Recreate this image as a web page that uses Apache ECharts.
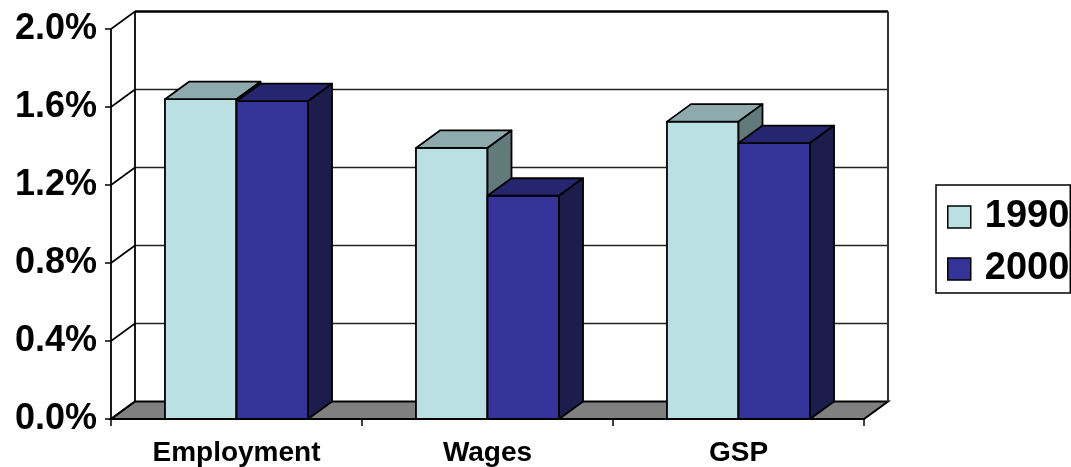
<!DOCTYPE html>
<html>
<head>
<meta charset="utf-8">
<script src="https://cdn.jsdelivr.net/npm/echarts@6/dist/echarts.min.js"></script>
<style>
  html, body { margin: 0; padding: 0; background: #ffffff; }
  #chart { width: 1071px; height: 467px; }
</style>
</head>
<body>
<div id="chart"></div>
<script>
// Growth shares by measure, 1990 vs 2000 (percent)
const categories = ['Employment', 'Wages', 'GSP'];
const seriesNames = ['1990', '2000'];
const values1990 = [1.64, 1.39, 1.525];
const values2000 = [1.63, 1.145, 1.415];
const yTicks = [0, 0.4, 0.8, 1.2, 1.6, 2.0];

const FONT = '"Liberation Sans", Arial, Helvetica, sans-serif';
// pixel offset of the back plane relative to the front plane
const DEPTH = [24, -17.5];
// share of a category band taken by a single bar
const BAR_FRACTION = 0.285;
const FACE_COLORS = [
  { front: '#BBE0E3', top: '#8FAAAC', side: '#627A7B' },
  { front: '#333399', top: '#262670', side: '#1C1C4D' }
];

// Back wall, left wall grid and floor of the 3D box
function renderFrame(params, api) {
  const band = api.size([1, 0])[0];
  const xl = api.coord([0, 0])[0] - band / 2;
  const xr = api.coord([categories.length - 1, 0])[0] + band / 2;
  const dx = DEPTH[0], dy = DEPTH[1];
  const y0 = api.coord([0, 0])[1];
  const yMax = api.coord([0, yTicks[yTicks.length - 1]])[1];
  const children = [];
  children.push({
    type: 'polygon',
    shape: { points: [[xl, y0], [xr, y0], [xr + dx, y0 + dy], [xl + dx, y0 + dy]] },
    style: { fill: '#808080', stroke: '#000', lineWidth: 2 }
  });
  yTicks.forEach(function (v) {
    const y = api.coord([0, v])[1];
    if (v > 0 && v < yTicks[yTicks.length - 1]) {
      children.push({
        type: 'line',
        shape: { x1: xl + dx, y1: y + dy, x2: xr + dx, y2: y + dy },
        style: { stroke: '#222', lineWidth: 1.6 }
      });
    }
    children.push({
      type: 'line',
      shape: { x1: xl, y1: y, x2: xl + dx, y2: y + dy },
      style: { stroke: '#000', lineWidth: 1.6 }
    });
  });
  children.push({
    type: 'line',
    shape: { x1: xl + dx, y1: yMax + dy, x2: xr + dx, y2: yMax + dy },
    style: { stroke: '#000', lineWidth: 2.5 }
  });
  children.push({
    type: 'line',
    shape: { x1: xl + dx, y1: yMax + dy, x2: xl + dx, y2: y0 + dy },
    style: { stroke: '#000', lineWidth: 1.8 }
  });
  children.push({
    type: 'line',
    shape: { x1: xr + dx, y1: yMax + dy, x2: xr + dx, y2: y0 + dy },
    style: { stroke: '#333', lineWidth: 2 }
  });
  return { type: 'group', children: children };
}

// 3D bar: front face, top face and right side face
function makeBarRenderer(j) {
  const colors = FACE_COLORS[j];
  return function (params, api) {
    const cat = api.value(0);
    const v = api.value(1);
    const band = api.size([1, 0])[0];
    const w = band * BAR_FRACTION;
    const cx = api.coord([cat, 0])[0];
    const x0 = cx - w + j * w;
    const x1 = x0 + w;
    const yb = api.coord([cat, 0])[1];
    const yt = api.coord([cat, v])[1];
    const dx = DEPTH[0], dy = DEPTH[1];
    const st = { stroke: '#000', lineWidth: 1.8, lineJoin: 'round' };
    return {
      type: 'group',
      children: [
        { type: 'polygon', shape: { points: [[x0, yb], [x1, yb], [x1, yt], [x0, yt]] },
          style: Object.assign({}, st, { fill: colors.front }) },
        { type: 'polygon', shape: { points: [[x0, yt], [x1, yt], [x1 + dx, yt + dy], [x0 + dx, yt + dy]] },
          style: Object.assign({}, st, { fill: colors.top }) },
        { type: 'polygon', shape: { points: [[x1, yb], [x1 + dx, yb + dy], [x1 + dx, yt + dy], [x1, yt]] },
          style: Object.assign({}, st, { fill: colors.side }) }
      ]
    };
  };
}

const chart = echarts.init(document.getElementById('chart'), null, { renderer: 'canvas' });

const option = {
  backgroundColor: '#ffffff',
  animation: false,
  textStyle: { fontFamily: FONT },
  grid: { left: 111, right: 207, top: 29, bottom: 48, containLabel: false },
  legend: {
    orient: 'vertical',
    left: 936,
    top: 185,
    padding: [12, 1, 4, 11],
    itemGap: 12,
    itemWidth: 23,
    itemHeight: 22,
    borderColor: '#000',
    borderWidth: 1.5,
    textStyle: { fontSize: 38, fontWeight: 'bold', color: '#000', fontFamily: FONT, lineHeight: 40, padding: [0, 0, 0, 9] },
    data: seriesNames.map(function (n, j) {
      return { name: n, icon: 'rect', itemStyle: { color: FACE_COLORS[j].front, borderColor: '#000', borderWidth: 1.5 } };
    })
  },
  xAxis: {
    type: 'category',
    data: categories,
    boundaryGap: true,
    axisLine: { show: true, lineStyle: { color: '#000', width: 2 } },
    axisTick: { show: true, alignWithLabel: false, length: 7, lineStyle: { color: '#000', width: 1.5 } },
    axisLabel: { color: '#000', fontSize: 28, fontWeight: 'bold', fontFamily: FONT, margin: 20 },
    splitLine: { show: false }
  },
  yAxis: {
    type: 'value',
    min: 0,
    max: 2,
    interval: 0.4,
    axisLine: { show: true, lineStyle: { color: '#000', width: 1.8 } },
    axisTick: { show: true, length: 6, lineStyle: { color: '#000', width: 1.5 } },
    axisLabel: {
      color: '#000', fontSize: 36, fontWeight: 'bold', fontFamily: FONT, margin: 14,
      formatter: function (v) { return v.toFixed(1) + '%'; }
    },
    splitLine: { show: false }
  },
  series: [
    {
      name: 'frame',
      type: 'custom',
      silent: true,
      clip: false,
      z: 1,
      renderItem: renderFrame,
      data: [[0, 0]],
      encode: { x: 0, y: 1 }
    },
    {
      name: seriesNames[0],
      type: 'custom',
      clip: false,
      z: 3,
      itemStyle: { color: FACE_COLORS[0].front },
      renderItem: makeBarRenderer(0),
      data: values1990.map(function (v, i) { return [i, v]; }),
      encode: { x: 0, y: 1 }
    },
    {
      name: seriesNames[1],
      type: 'custom',
      clip: false,
      z: 4,
      itemStyle: { color: FACE_COLORS[1].front },
      renderItem: makeBarRenderer(1),
      data: values2000.map(function (v, i) { return [i, v]; }),
      encode: { x: 0, y: 1 }
    }
  ]
};

chart.setOption(option);
</script>
</body>
</html>
